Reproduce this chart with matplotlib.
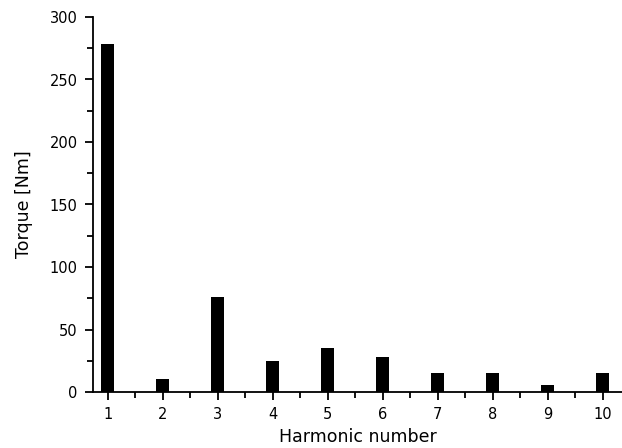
import matplotlib
matplotlib.use("Agg")
import matplotlib.pyplot as plt
from matplotlib.ticker import MultipleLocator

# harmonic spectrum of the torque
harmonics = [1, 2, 3, 4, 5, 6, 7, 8, 9, 10]
torque = [278, 10.5, 76, 25, 35, 28, 15, 15, 5.5, 15]

plt.rcParams['font.family'] = ['DejaVu Sans']

fig = plt.figure(figsize=(6.22, 4.48), dpi=100)
ax = fig.add_axes([93 / 622, 56 / 448, 1 - 93 / 622, 375 / 448])

ax.bar(harmonics, torque, width=0.23, color='black')

ax.set_xlim(0.733, 10.35)
ax.set_ylim(0, 300)

ax.spines['top'].set_visible(False)
ax.spines['right'].set_visible(False)
ax.spines['left'].set_linewidth(1.3)
ax.spines['bottom'].set_linewidth(1.3)

ax.xaxis.set_major_locator(MultipleLocator(1))
ax.xaxis.set_minor_locator(MultipleLocator(0.5))
ax.yaxis.set_major_locator(MultipleLocator(50))
ax.yaxis.set_minor_locator(MultipleLocator(25))

ax.tick_params(which='major', direction='out', length=6, width=1.3, labelsize=10.5, pad=5)
ax.tick_params(which='minor', direction='out', length=4.5, width=1.3)

ax.set_xlabel('Harmonic number', fontsize=12.5, labelpad=4)
ax.set_ylabel('Torque [Nm]', fontsize=12.5, labelpad=12)

fig.savefig('out.png', dpi=100)
